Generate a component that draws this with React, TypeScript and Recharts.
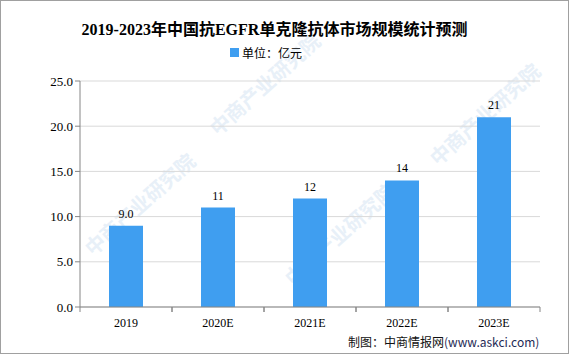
import { Bar, BarChart, CartesianGrid, LabelList, Legend, XAxis, YAxis } from "recharts";

const years = ["2019", "2020E", "2021E", "2022E", "2023E"];
const sizes = [9.0, 11, 12, 14, 21];
const sizeLabels = ["9.0", "11", "12", "14", "21"];
const yTicks = [0, 5, 10, 15, 20, 25];

const data = years.map((year, i) => ({ year, size: sizes[i], label: sizeLabels[i] }));

const W = 569;
const H = 354;
const margin = { top: 44, right: 29, bottom: 0, left: 0 };
const yAxisWidth = 80;
const bandWidth = (W - margin.left - margin.right - yAxisWidth) / years.length;

const BLUE = "#3f9ef0";
const AXIS = "#868686";
const SERIF = "'Liberation Serif', 'Noto Sans CJK SC', serif";
const CJK = "'Noto Sans CJK SC', sans-serif";

const XTick = (props: any) => {
  const { x, y, payload } = props;
  return (
    <g>
      <line x1={x - bandWidth / 2} y1={y - 8} x2={x - bandWidth / 2} y2={y - 3} stroke={AXIS} />
      <line x1={x + bandWidth / 2} y1={y - 8} x2={x + bandWidth / 2} y2={y - 3} stroke={AXIS} />
      <text x={x} y={y + 12} textAnchor="middle" fontSize={12} fontFamily={SERIF} fill="#000">
        {payload.value}
      </text>
    </g>
  );
};

const LegendBox = () => (
  <div style={{ display: "flex", justifyContent: "center", alignItems: "center", fontFamily: CJK, fontSize: 12, color: "#000", marginLeft: -8 }}>
    <span style={{ width: 9, height: 9, background: BLUE, display: "inline-block", marginRight: 3 }} />
    单位：亿元
  </div>
);

// faint diagonal watermark positions
const marks = [
  { x: 145, y: 210 },
  { x: 345, y: 240 },
  { x: 490, y: 120 },
  { x: 270, y: 90 },
];

export default function App() {
  return (
    <div
      style={{
        position: "absolute",
        left: 0,
        top: 0,
        width: W - 2,
        height: H - 2,
        border: "1px solid #a0a0a0",
        background: "#fff",
        overflow: "hidden",
      }}
    >
      <div style={{ position: "absolute", left: -1, top: -1, width: W, height: H }}>
        <svg width={W} height={H} style={{ position: "absolute", left: 0, top: 0 }}>
          {marks.map((m, i) => (
            <text
              key={i}
              x={m.x}
              y={m.y}
              textAnchor="middle"
              fontSize={20}
              fontWeight="bold"
              fontFamily={CJK}
              fill="#e8f0f8"
              transform={`rotate(-42 ${m.x} ${m.y})`}
            >
              中商产业研究院
            </text>
          ))}
        </svg>
        <div
          style={{
            position: "absolute",
            left: -10,
            top: 16,
            width: W,
            textAlign: "center",
            fontFamily: SERIF,
            fontWeight: "bold",
            fontSize: 16,
            color: "#000",
          }}
        >
          2019-2023年中国抗EGFR单克隆抗体市场规模统计预测
        </div>
        <div style={{ position: "absolute", left: 0, top: 0 }}>
          <BarChart width={W} height={H} data={data} margin={margin}>
            <CartesianGrid vertical={false} stroke="#d9d9d9" />
            <Legend verticalAlign="top" height={37} content={<LegendBox />} />
            <XAxis
              dataKey="year"
              stroke={AXIS}
              tickLine={false}
              tick={<XTick />}
              height={47}
              interval={0}
            />
            <YAxis
              width={yAxisWidth}
              domain={[0, 25]}
              ticks={yTicks}
              stroke={AXIS}
              tickSize={5}
              tick={{ fill: "#000", fontSize: 13, fontFamily: SERIF }}
              tickFormatter={(v: number) => v.toFixed(1)}
            />
            <Bar dataKey="size" fill={BLUE} barSize={34} isAnimationActive={false}>
              <LabelList dataKey="label" position="top" offset={8} fill="#000" fontSize={12} fontFamily={SERIF} />
            </Bar>
          </BarChart>
        </div>
        <div style={{ position: "absolute", left: 348, top: 333, fontFamily: CJK, fontSize: 12, color: "#111", whiteSpace: "nowrap" }}>
          制图：中商情报网<span style={{ color: "#1f2a55" }}>(www.askci.com)</span>
        </div>
      </div>
    </div>
  );
}
